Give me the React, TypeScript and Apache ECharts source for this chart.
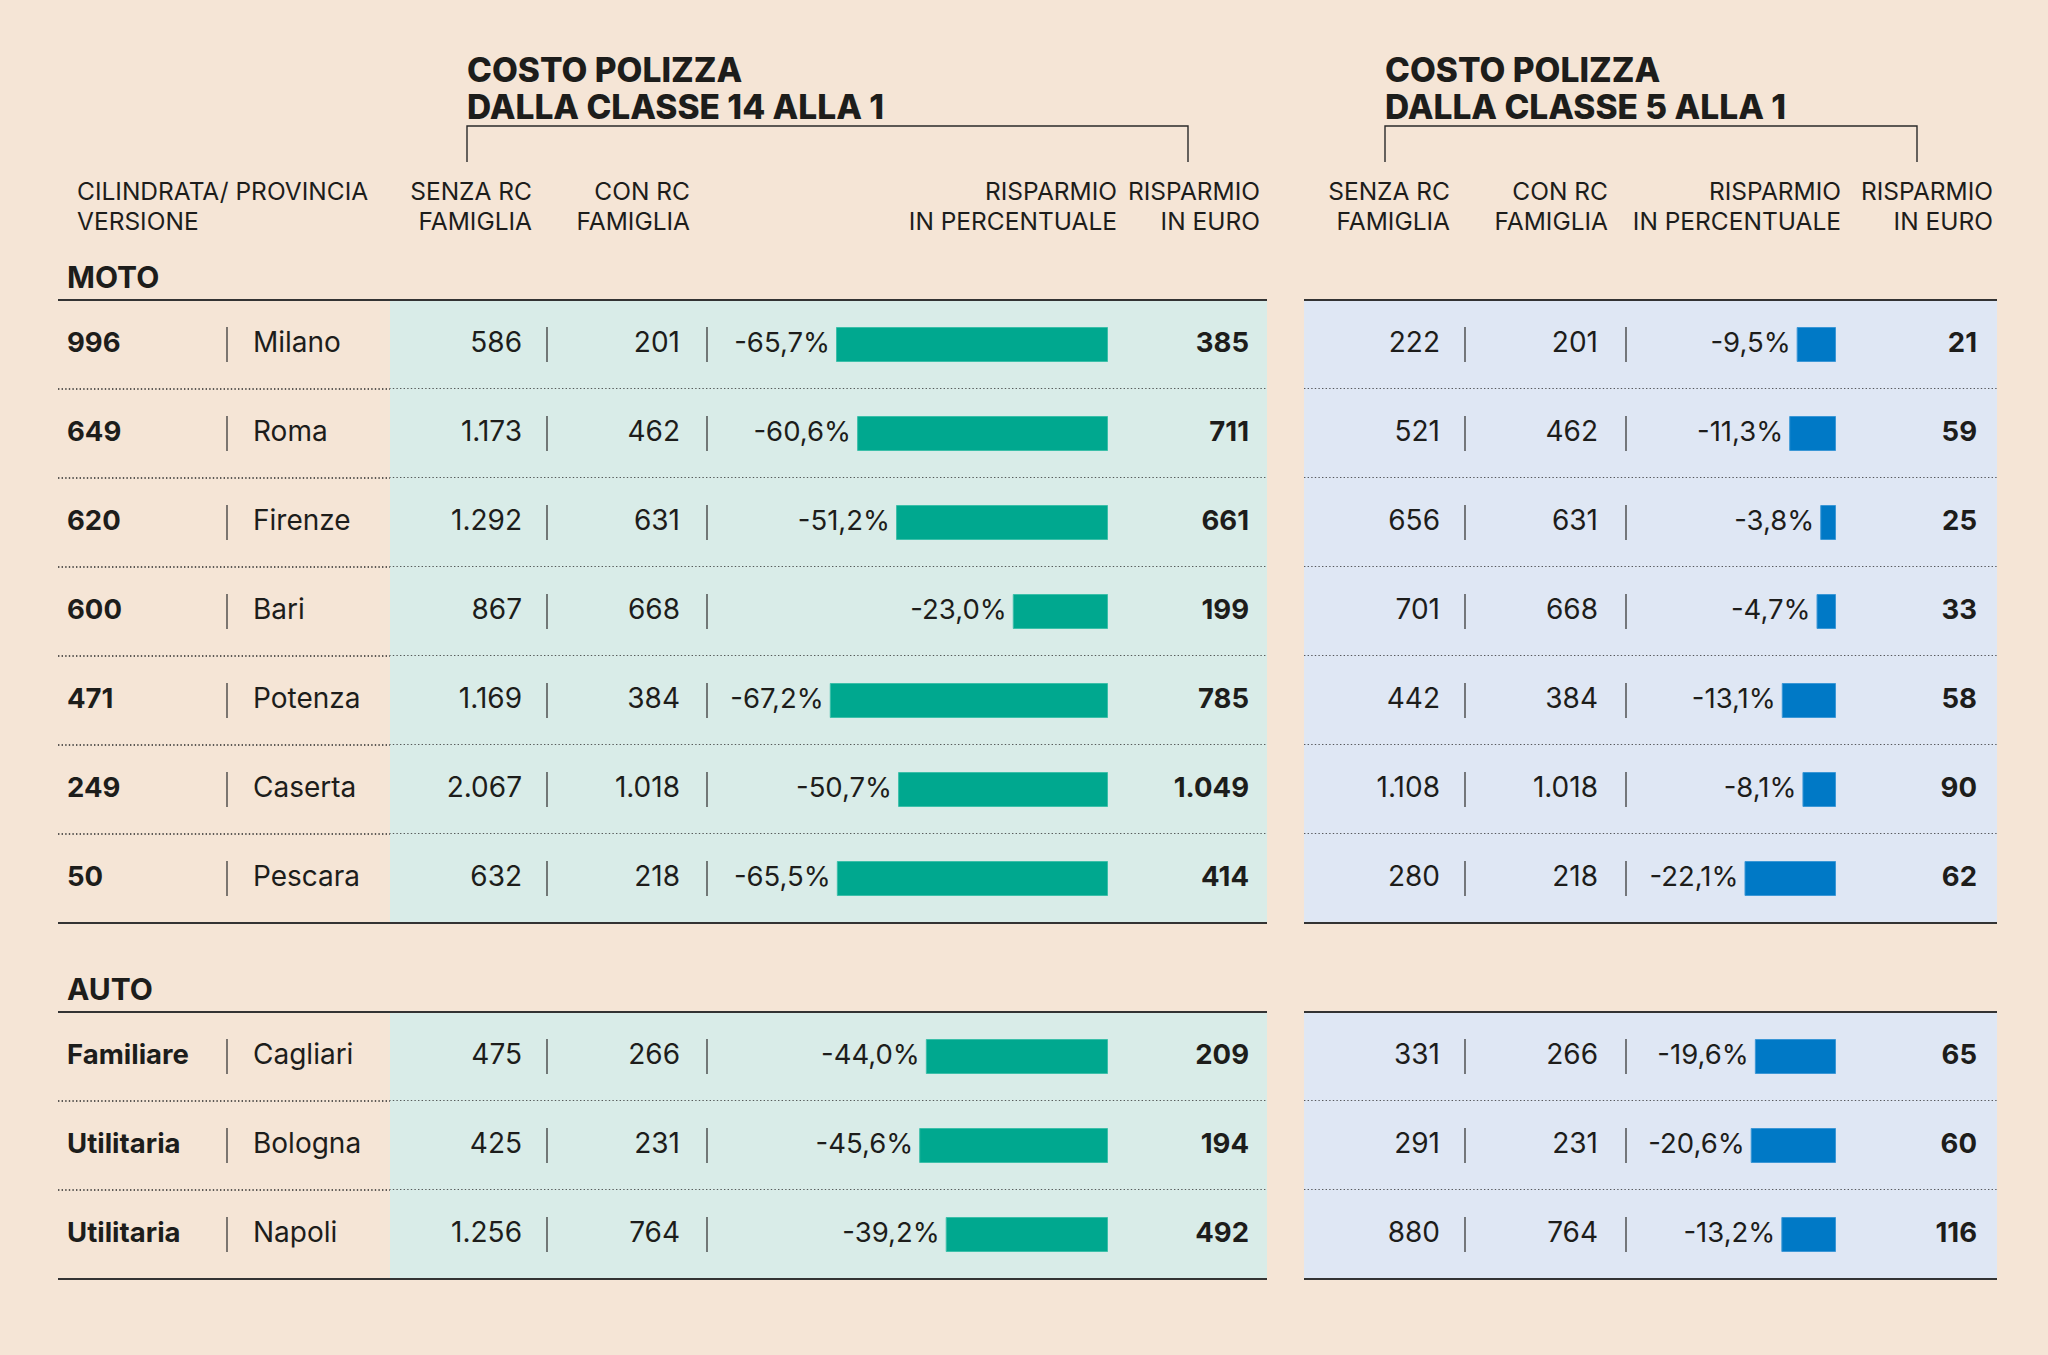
import React, { useEffect, useRef } from 'react';
import * as echarts from 'echarts';

// ---------- DATA ----------
const sectionNames = ['MOTO', 'AUTO'];
const motoVersione = ['996', '649', '620', '600', '471', '249', '50'];
const motoProvincia = ['Milano', 'Roma', 'Firenze', 'Bari', 'Potenza', 'Caserta', 'Pescara'];
const autoVersione = ['Familiare', 'Utilitaria', 'Utilitaria'];
const autoProvincia = ['Cagliari', 'Bologna', 'Napoli'];

// Costo polizza dalla classe 14 alla 1 (rows: MOTO then AUTO)
const senzaRc14 = [586, 1173, 1292, 867, 1169, 2067, 632, 475, 425, 1256];
const conRc14 = [201, 462, 631, 668, 384, 1018, 218, 266, 231, 764];
const risparmioPct14 = [-65.7, -60.6, -51.2, -23.0, -67.2, -50.7, -65.5, -44.0, -45.6, -39.2];
const risparmioEuro14 = [385, 711, 661, 199, 785, 1049, 414, 209, 194, 492];

// Costo polizza dalla classe 5 alla 1
const senzaRc5 = [222, 521, 656, 701, 442, 1108, 280, 331, 291, 880];
const conRc5 = [201, 462, 631, 668, 384, 1018, 218, 266, 231, 764];
const risparmioPct5 = [-9.5, -11.3, -3.8, -4.7, -13.1, -8.1, -22.1, -19.6, -20.6, -13.2];
const risparmioEuro5 = [21, 59, 25, 33, 58, 90, 62, 65, 60, 116];

const titles14 = ['COSTO POLIZZA', 'DALLA CLASSE 14 ALLA 1'];
const titles5 = ['COSTO POLIZZA', 'DALLA CLASSE 5 ALLA 1'];
const headVersione = ['CILINDRATA/ PROVINCIA', 'VERSIONE'];
const headCols = [
  ['SENZA RC', 'FAMIGLIA'],
  ['CON RC', 'FAMIGLIA'],
  ['RISPARMIO', 'IN PERCENTUALE'],
  ['RISPARMIO', 'IN EURO'],
];

// ---------- HELPERS ----------
const FONT = 'Inter, Roboto, sans-serif';
const INK = '#1d1d1b';
const BG = '#f5e5d6';
const TINT_L = '#d9ece8';
const TINT_R = '#dfe7f4';
const GREEN = '#00a88f';
const BLUE = '#0079c6';

const fmtInt = (n: number) => {
  const s = String(Math.round(Math.abs(n))).replace(/\B(?=(\d{3})+(?!\d))/g, '.');
  return (n < 0 ? '-' : '') + s;
};
const fmtPct = (v: number) => v.toFixed(1).replace('.', ',') + '%';

const sections = [
  { name: sectionNames[0], versione: motoVersione, provincia: motoProvincia },
  { name: sectionNames[1], versione: autoVersione, provincia: autoProvincia },
];

type Row = { cat: number; section: number; first: boolean; last: boolean; versione: string; provincia: string };
const rows: Row[] = [];
const categories: string[] = [];
sections.forEach((s, si) => {
  if (si > 0) categories.push('spacer-' + si);
  s.provincia.forEach((p, i) => {
    rows.push({
      cat: categories.length,
      section: si,
      first: i === 0,
      last: i === s.provincia.length - 1,
      versione: s.versione[i],
      provincia: p,
    });
    categories.push(s.name + '-' + p + '-' + i);
  });
});

const barData = (vals: number[]) => {
  const out: any[] = categories.map(() => '-');
  rows.forEach((r, i) => {
    out[r.cat] = vals[i];
  });
  return out;
};

const txt = (
  text: string,
  x: number,
  y: number,
  size: number,
  weight: string,
  align: string,
  lineHeight?: number
) => ({
  type: 'text',
  silent: true,
  style: {
    text,
    x,
    y,
    fill: INK,
    font: `${weight} ${size}px ${FONT}`,
    textAlign: align,
    textVerticalAlign: 'middle',
    align,
    verticalAlign: 'middle',
    ...(lineHeight ? { lineHeight, textLineHeight: lineHeight } : {}),
  },
});

const hline = (x1: number, x2: number, y: number, dotted: boolean) => ({
  type: 'line',
  silent: true,
  shape: { x1, y1: y, x2, y2: y },
  style: dotted
    ? { stroke: '#2b2b2b', lineWidth: 1.4, lineDash: [1.4, 2.2] }
    : { stroke: '#333333', lineWidth: 2 },
});

const vline = (x: number, yc: number) => ({
  type: 'line',
  silent: true,
  shape: { x1: x, y1: yc - 17.5, x2: x, y2: yc + 17.5 },
  style: { stroke: '#3a3a3a', lineWidth: 1.3 },
});

type Col = { off: number; align: string; bold: boolean; get: (i: number) => string };
type Panel = { tintOff: number; tint: string; seps: number[]; cols: Col[]; sectionLabel: boolean };

const leftPanel: Panel = {
  tintOff: 332,
  tint: TINT_L,
  seps: [169, 489, 649],
  sectionLabel: true,
  cols: [
    { off: 9, align: 'left', bold: true, get: (i) => rows[i].versione },
    { off: 195, align: 'left', bold: false, get: (i) => rows[i].provincia },
    { off: 464, align: 'right', bold: false, get: (i) => fmtInt(senzaRc14[i]) },
    { off: 622, align: 'right', bold: false, get: (i) => fmtInt(conRc14[i]) },
    { off: 1191, align: 'right', bold: true, get: (i) => fmtInt(risparmioEuro14[i]) },
  ],
};

const rightPanel: Panel = {
  tintOff: 0,
  tint: TINT_R,
  seps: [161, 322],
  sectionLabel: false,
  cols: [
    { off: 136, align: 'right', bold: false, get: (i) => fmtInt(senzaRc5[i]) },
    { off: 294, align: 'right', bold: false, get: (i) => fmtInt(conRc5[i]) },
    { off: 673, align: 'right', bold: true, get: (i) => fmtInt(risparmioEuro5[i]) },
  ],
};

const makeRender = (panel: Panel) => (params: any, api: any) => {
  const cat = api.value(1);
  const i = api.value(2);
  const r = rows[i];
  const yc = api.coord([0, cat])[1];
  const bh = api.size([0, 1])[1];
  const cs = params.coordSys;
  const x0 = cs.x;
  const x1 = cs.x + cs.width;
  const top = yc - bh / 2;
  const bot = yc + bh / 2;
  const children: any[] = [];
  children.push({
    type: 'rect',
    silent: true,
    shape: { x: x0 + panel.tintOff, y: top, width: x1 - x0 - panel.tintOff, height: bh },
    style: { fill: panel.tint },
  });
  if (r.first) {
    children.push(hline(x0, x1, top, false));
    if (panel.sectionLabel) children.push(txt(sectionNames[r.section], x0 + 9, top - 23, 30, 'bold', 'left'));
  }
  children.push(hline(x0, x1, bot, !r.last));
  panel.seps.forEach((s) => children.push(vline(x0 + s, yc)));
  panel.cols.forEach((c) =>
    children.push(txt(c.get(i), x0 + c.off, yc - 2.5, c.bold ? 27.5 : 28, c.bold ? 'bold' : 'normal', c.align))
  );
  return { type: 'group', children };
};

const headerGraphics = () => {
  const g: any[] = [];
  const title = (lines: string[], x: number) => {
    g.push(txt(lines.join('\n'), x, 88, 33.5, '800', 'left', 37));
  };
  title(titles14, 467);
  title(titles5, 1385);
  const bracket = (xa: number, xb: number) =>
    g.push({
      type: 'polyline',
      silent: true,
      shape: { points: [[xa, 162], [xa, 126], [xb, 126], [xb, 162]] },
      style: { stroke: '#2a2a2a', lineWidth: 1.4, fill: null },
    });
  bracket(467, 1188);
  bracket(1385, 1917);
  g.push(txt(headVersione.join('\n'), 77, 205.5, 24.5, 'normal', 'left', 30));
  const leftX = [532, 690, 1117, 1260];
  const rightX = [1450, 1608, 1841, 1993];
  headCols.forEach((h, k) => {
    g.push(txt(h.join('\n'), leftX[k], 205.5, 24.5, 'normal', 'right', 30));
    g.push(txt(h.join('\n'), rightX[k], 205.5, 24.5, 'normal', 'right', 30));
  });
  return g;
};

const barSeries = (vals: number[], axis: number, color: string, border: string) => ({
  type: 'bar',
  xAxisIndex: axis,
  yAxisIndex: axis,
  data: barData(vals),
  barWidth: 35,
  z: 3,
  silent: true,
  itemStyle: { color, borderColor: border, borderWidth: 1 },
  label: {
    show: true,
    position: 'left',
    distance: 6,
    offset: [0, -2.5],
    formatter: (p: any) => fmtPct(p.value),
    color: INK,
    fontSize: 27.5,
    fontFamily: FONT,
  },
});

export default function App() {
  const ref = useRef<HTMLDivElement>(null);
  useEffect(() => {
    document.body.style.margin = '0';
    const chart = echarts.init(ref.current!, null, { renderer: 'svg' });
    const gridTop = 300;
    const gridH = 979;
    const catAxis = (gi: number) => ({
      gridIndex: gi,
      type: 'category',
      data: categories,
      inverse: true,
      show: false,
    });
    chart.setOption({
      animation: false,
      backgroundColor: BG,
      grid: [
        { left: 694, width: 414, top: gridTop, height: gridH },
        { left: 1422, width: 414, top: gridTop, height: gridH },
        { left: 58, width: 1209, top: gridTop, height: gridH },
        { left: 1304, width: 693, top: gridTop, height: gridH },
      ],
      xAxis: [
        { gridIndex: 0, type: 'value', min: -100, max: 0, show: false },
        { gridIndex: 1, type: 'value', min: -100, max: 0, show: false },
        { gridIndex: 2, type: 'value', min: 0, max: 1, show: false },
        { gridIndex: 3, type: 'value', min: 0, max: 1, show: false },
      ],
      yAxis: [catAxis(0), catAxis(1), catAxis(2), catAxis(3)],
      graphic: headerGraphics(),
      series: [
        {
          type: 'custom',
          xAxisIndex: 2,
          yAxisIndex: 2,
          z: 1,
          silent: true,
          renderItem: makeRender(leftPanel),
          encode: { x: 0, y: 1 },
          data: rows.map((r, i) => [0, r.cat, i]),
        },
        {
          type: 'custom',
          xAxisIndex: 3,
          yAxisIndex: 3,
          z: 1,
          silent: true,
          renderItem: makeRender(rightPanel),
          encode: { x: 0, y: 1 },
          data: rows.map((r, i) => [0, r.cat, i]),
        },
        barSeries(risparmioPct14, 0, GREEN, '#3cbfa9'),
        barSeries(risparmioPct5, 1, BLUE, '#3b97d6'),
      ],
    });
    return () => chart.dispose();
  }, []);
  return (
    <div
      ref={ref}
      style={{ position: 'fixed', left: 0, top: 0, width: 2048, height: 1355, background: BG }}
    />
  );
}
